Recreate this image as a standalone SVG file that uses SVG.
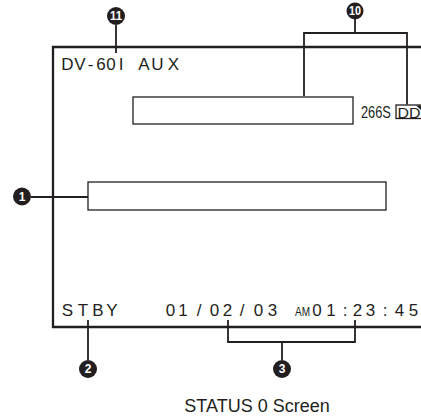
<svg xmlns="http://www.w3.org/2000/svg" width="421" height="419" viewBox="0 0 421 419">
<style>
.frame{fill:none;stroke:#231f20;stroke-width:2.3}
.ln{fill:none;stroke:#231f20;stroke-width:1.8}
.box{fill:#fff;stroke:#231f20;stroke-width:1.3}
.scr{font-family:"Liberation Sans",Arial,sans-serif;font-size:17px;fill:#231f20;text-anchor:middle}
.cnd{font-family:"Liberation Sans",Arial,sans-serif;fill:#231f20}
.num{font-family:"Liberation Sans",Arial,sans-serif;font-size:12px;font-weight:bold;fill:#fff;text-anchor:middle}
.cap{font-family:"Liberation Sans",Arial,sans-serif;font-size:18px;fill:#231f20;text-anchor:middle}
</style>
<rect width="421" height="419" fill="#fff"/>
<g id="screen">
<path class="frame" d="M430 47 H53 V327 H430"/>
<text class="scr" x="67.5 80 90.5 101 111 121 144 157.5 173.5" y="70">DV-60IAUX</text>
<text class="scr" x="67.5 83 98 112" y="316">STBY</text>
<text class="scr" x="170.5 183 199 214.5 227.5 242 258.5 272.5" y="316">01/02/03</text>
<text class="cnd" transform="translate(295 316) scale(0.8 1)" x="0" y="0" font-size="12.5">AM</text>
<text class="scr" x="317 331 345 357.5 370.5 385 399.5 413.5" y="316">01:23:45</text>
</g>
<g id="field10a"><rect class="box" x="133" y="97" width="220" height="27"/></g>
<g id="field10b">
<text class="cnd" transform="translate(361 118) scale(0.8 1)" x="0" y="0" font-size="16">266S</text>
<rect class="box" x="396" y="105" width="30" height="13.5"/>
<text class="cnd" x="397.5" y="117.5" font-size="15" textLength="23" lengthAdjust="spacingAndGlyphs">DD</text>
<path d="M416 105.5 H421 V110 Z" fill="#231f20"/>
</g>
<g id="field1"><rect class="box" x="88" y="182" width="298" height="28"/></g>
<g id="connectors">
<path class="ln" d="M116 25 V53"/>
<path class="ln" d="M355 19 V33 M304 96 V33 H407 V104.5"/>
<path class="ln" d="M31 197 H88"/>
<path class="ln" d="M88 320 V360"/>
<path class="ln" d="M228 320 V342 H355 V320 M282 342 V360"/>
</g>
<g id="c11"><circle cx="116" cy="16" r="9" fill="#231f20"/><text class="num" x="116" y="20.3" textLength="12" lengthAdjust="spacingAndGlyphs">11</text></g>
<g id="c10"><circle cx="355" cy="11" r="8.5" fill="#231f20"/><text class="num" x="355" y="15.3" textLength="12" lengthAdjust="spacingAndGlyphs">10</text></g>
<g id="c1"><circle cx="22" cy="196.5" r="9" fill="#231f20"/><text class="num" x="22" y="200.8">1</text></g>
<g id="c2"><circle cx="88" cy="369" r="9" fill="#231f20"/><text class="num" x="88" y="373.3">2</text></g>
<g id="c3"><circle cx="282" cy="369" r="9" fill="#231f20"/><text class="num" x="282" y="373.3">3</text></g>
<text class="cap" x="257" y="412">STATUS 0 Screen</text>
</svg>
